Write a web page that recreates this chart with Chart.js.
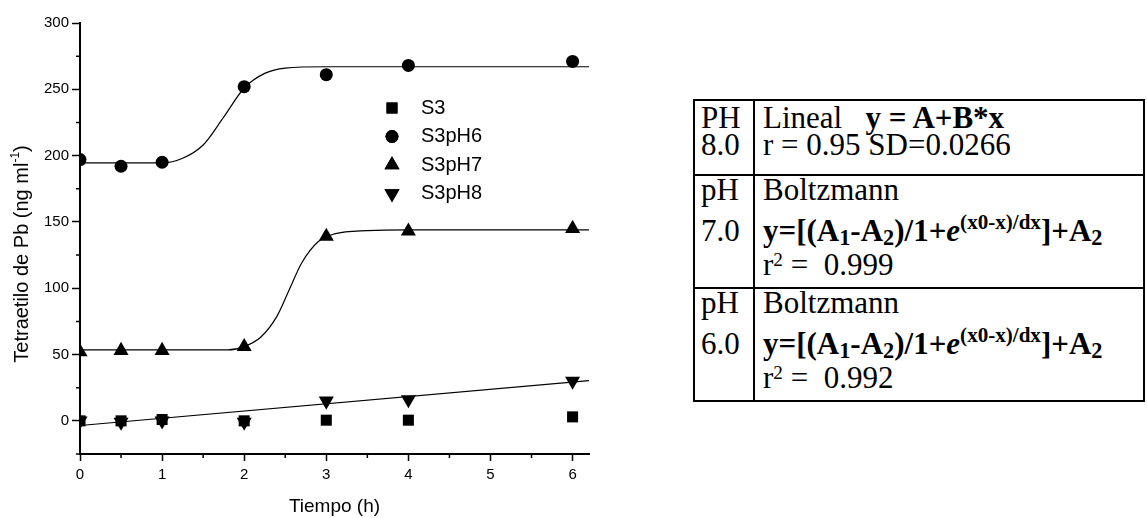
<!DOCTYPE html>
<html>
<head>
<meta charset="utf-8">
<script src="https://cdn.jsdelivr.net/npm/chart.js@4.4.1/dist/chart.umd.min.js"></script>
<style>
  html, body { margin: 0; padding: 0; background: #fff; }
  #wrap { position: relative; width: 1147px; height: 518px; overflow: hidden; }
  #plot { position: absolute; left: 0; top: 0; width: 640px; height: 518px; }
  #tabla {
    position: absolute; left: 693px; top: 99px; width: 452px;
    border-collapse: collapse;
    font-family: "Liberation Serif", "Times New Roman", serif;
    font-size: 31px; color: #000;
  }
  #tabla td { border: 2px solid #000; vertical-align: top; padding: 0 0 0 8px; }
  #tabla td.ph { width: 52px; padding-left: 6px; }
  #tabla tr.r1 td { padding-top: 3px; }
  .ln { height: 27px; line-height: 27px; white-space: nowrap; }
  .f { margin-top: 14px; }
  .r2 { margin-top: 7px; }
  b sub { font-size: 0.72em; vertical-align: -0.18em; line-height: 0; }
  b sup { font-size: 0.68em; vertical-align: 0.55em; line-height: 0; }
  .r2 sup { font-size: 0.62em; vertical-align: 0.48em; line-height: 0; }
</style>
</head>
<body>
<div id="wrap">
  <canvas id="plot" width="640" height="518"></canvas>
  <table id="tabla">
    <tr class="r1" style="height:75px">
      <td class="ph"><div class="ln">PH</div><div class="ln">8.0</div></td>
      <td><div class="ln">Lineal&nbsp;&nbsp; <b>y = A+B*x</b></div><div class="ln">r = 0.95 SD=0.0266</div></td>
    </tr>
    <tr style="height:113px">
      <td class="ph"><div class="ln">pH</div><div class="ln f">7.0</div></td>
      <td><div class="ln">Boltzmann</div><div class="ln f"><b>y=[(A<sub>1</sub>-A<sub>2</sub>)/1+<i>e</i><sup>(x0-x)/dx</sup>]+A<sub>2</sub></b></div><div class="ln r2">r<sup>2</sup> =&nbsp; 0.999</div></td>
    </tr>
    <tr style="height:113px">
      <td class="ph"><div class="ln">pH</div><div class="ln f">6.0</div></td>
      <td><div class="ln">Boltzmann</div><div class="ln f"><b>y=[(A<sub>1</sub>-A<sub>2</sub>)/1+<i>e</i><sup>(x0-x)/dx</sup>]+A<sub>2</sub></b></div><div class="ln r2">r<sup>2</sup> =&nbsp; 0.992</div></td>
    </tr>
  </table>
</div>
<script>
// Tiempo de muestreo (h) y concentraciones medidas (ng/ml)
const tiempo = [0, 0.5, 1, 2, 3, 4, 6];
const s3 = [0, 0, 1, 0, 0.5, 0.5, 3];
const s3pH6 = [197, 192, 195, 252, 261, 268, 271];
const s3pH7 = [52, 53, 53, 56, 139, 143, 145];
const s3pH8 = [0, -1, 0, -1, 15, 16, 30];

// Curvas de ajuste (Boltzmann para pH 6 y 7, lineal para pH 8)
const ajusteX6 = [0, 1, 1.25, 1.5, 1.75, 2, 2.25, 2.5, 3, 4, 6.2];
const ajusteY6 = [194.5, 194.5, 198, 208, 229, 251, 262, 266, 267, 267, 267];
const ajusteX7 = [0, 1.8, 2, 2.2, 2.4, 2.55, 2.7, 2.9, 3.1, 3.5, 4, 6.2];
const ajusteY7 = [53.5, 53.5, 56, 63, 79, 99, 119, 135, 141, 143.5, 144, 144];
const ajusteX8 = [0, 6.2];
const ajusteY8 = [-3.5, 30.3];

const series = ['S3', 'S3pH6', 'S3pH7', 'S3pH8'];
const ejeY = { min: -25, max: 300, paso: 25 };
const ejeX = { min: 0, max: 6.2, paso: 0.5 };

const FUENTE = '"Liberation Sans", Arial, sans-serif';

const pares = (xs, ys) => xs.map((x, i) => ({ x: x, y: ys[i] }));

function puntos(label, ys, estilo, radio, rot) {
    return {
        type: 'scatter',
        label: label,
        data: pares(tiempo, ys),
        pointStyle: estilo,
        pointRadius: radio,
        pointHoverRadius: radio,
        pointRotation: rot || 0,
        pointBackgroundColor: '#000',
        pointBorderColor: '#000',
        pointBorderWidth: 0,
        showLine: false,
        order: 1
    };
}

function ajuste(xs, ys) {
    return {
        type: 'line',
        label: '',
        data: pares(xs, ys),
        borderColor: '#000',
        borderWidth: 1.2,
        pointRadius: 0,
        cubicInterpolationMode: 'monotone',
        fill: false,
        order: 2
    };
}

// Marcas menores de los ejes (mas cortas que las principales)
const marcasMenores = {
    id: 'marcasMenores',
    afterDraw(chart) {
        const { ctx, chartArea } = chart;
        const x = chart.scales.x, y = chart.scales.y;
        ctx.save();
        ctx.strokeStyle = '#000';
        ctx.lineWidth = 1.5;
        ctx.beginPath();
        x.ticks.forEach(t => {
            if (!Number.isInteger(t.value)) {
                const px = x.getPixelForValue(t.value);
                ctx.moveTo(px, chartArea.bottom);
                ctx.lineTo(px, chartArea.bottom + 4);
            }
        });
        y.ticks.forEach(t => {
            if (t.value % 50 !== 0) {
                const py = y.getPixelForValue(t.value);
                ctx.moveTo(chartArea.left, py);
                ctx.lineTo(chartArea.left - 4, py);
            }
        });
        ctx.stroke();
        ctx.restore();
    }
};

// Titulo del eje Y con superindice
const tituloY = {
    id: 'tituloY',
    afterDraw(chart) {
        const ctx = chart.ctx;
        const base = 'Tetraetilo de Pb (ng ml';
        const sup = '-1';
        const fin = ')';
        ctx.save();
        ctx.translate(22, 254);
        ctx.rotate(-Math.PI / 2);
        ctx.fillStyle = '#000';
        ctx.textBaseline = 'middle';
        ctx.font = '20px ' + FUENTE;
        const w1 = ctx.measureText(base).width;
        const w3 = ctx.measureText(fin).width;
        ctx.font = '12px ' + FUENTE;
        const w2 = ctx.measureText(sup).width;
        let x0 = -(w1 + w2 + w3) / 2;
        ctx.font = '20px ' + FUENTE;
        ctx.fillText(base, x0, 0);
        ctx.font = '12px ' + FUENTE;
        ctx.fillText(sup, x0 + w1, -6);
        ctx.font = '20px ' + FUENTE;
        ctx.fillText(fin, x0 + w1 + w2, 0);
        ctx.restore();
    }
};

// Leyenda dentro del area de trazado
const leyenda = {
    id: 'leyenda',
    afterDraw(chart, args, opts) {
        const ctx = chart.ctx;
        ctx.save();
        ctx.font = '20px ' + FUENTE;
        ctx.textBaseline = 'middle';
        ctx.fillStyle = '#000';
        series.forEach((nombre, i) => {
            const ds = chart.data.datasets[i];
            const yy = opts.y + i * opts.paso;
            Chart.helpers.drawPoint(ctx, {
                pointStyle: ds.pointStyle,
                radius: ds.pointRadius,
                rotation: ds.pointRotation,
                borderWidth: 0
            }, opts.x, yy);
            ctx.fillStyle = '#000';
            ctx.fill();
            ctx.fillText(nombre, opts.x + 29, yy);
        });
        ctx.restore();
    }
};

const canvas = document.getElementById('plot');
new Chart(canvas, {
    data: {
        datasets: [
            puntos(series[0], s3, 'rect', 7.8),
            puntos(series[1], s3pH6, 'circle', 6.5),
            puntos(series[2], s3pH7, 'triangle', 8.7),
            puntos(series[3], s3pH8, 'triangle', 8.7, 180),
            ajuste(ajusteX6, ajusteY6),
            ajuste(ajusteX7, ajusteY7),
            ajuste(ajusteX8, ajusteY8)
        ]
    },
    options: {
        responsive: false,
        animation: false,
        events: [],
        layout: { padding: { top: 23, right: 51, bottom: 0, left: 0 } },
        plugins: {
            legend: { display: false },
            tooltip: { enabled: false },
            leyenda: { x: 392, y: 108, paso: 28.5 }
        },
        scales: {
            x: {
                type: 'linear',
                min: ejeX.min,
                max: ejeX.max,
                grid: {
                    drawOnChartArea: false,
                    drawTicks: true,
                    tickLength: 7,
                    tickWidth: 1.5,
                    tickColor: c => Number.isInteger(c.tick.value) ? '#000' : 'rgba(0,0,0,0)'
                },
                border: { color: '#000', width: 2 },
                ticks: {
                    stepSize: ejeX.paso,
                    includeBounds: false,
                    autoSkip: false,
                    maxRotation: 0,
                    padding: 5,
                    color: '#000',
                    font: { family: FUENTE, size: 15 },
                    callback: v => Number.isInteger(v) ? String(v) : ''
                },
                title: {
                    display: true,
                    text: 'Tiempo (h)',
                    color: '#000',
                    font: { family: FUENTE, size: 19 },
                    padding: { top: 0, bottom: 0 }
                },
                afterFit(scale) { scale.height = 64; }
            },
            y: {
                type: 'linear',
                min: ejeY.min,
                max: ejeY.max,
                grid: {
                    drawOnChartArea: false,
                    drawTicks: true,
                    tickLength: 8,
                    tickWidth: 1.5,
                    tickColor: c => c.tick.value % 50 === 0 ? '#000' : 'rgba(0,0,0,0)'
                },
                border: { color: '#000', width: 2 },
                ticks: {
                    stepSize: ejeY.paso,
                    includeBounds: false,
                    autoSkip: false,
                    padding: 3,
                    color: '#000',
                    font: { family: FUENTE, size: 15 },
                    callback: v => v % 50 === 0 ? String(v) : ''
                },
                afterFit(scale) { scale.width = 80; }
            }
        }
    },
    plugins: [marcasMenores, tituloY, leyenda]
});
</script>
</body>
</html>
